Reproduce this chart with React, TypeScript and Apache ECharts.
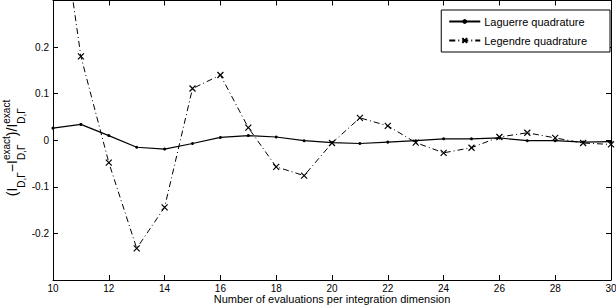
import React, { useEffect, useRef } from "react";
import * as echarts from "echarts";

const xValues = [10, 11, 12, 13, 14, 15, 16, 17, 18, 19, 20, 21, 22, 23, 24, 25, 26, 27, 28, 29, 30];
const laguerre = [0.026, 0.034, 0.010, -0.015, -0.019, -0.007, 0.006, 0.010, 0.007, -0.001, -0.005, -0.007, -0.004, -0.001, 0.003, 0.003, 0.005, -0.001, -0.001, -0.004, -0.003];
const legendre = [0.6, 0.18, -0.048, -0.232, -0.144, 0.111, 0.14, 0.027, -0.057, -0.076, -0.006, 0.048, 0.031, -0.005, -0.027, -0.016, 0.007, 0.016, 0.005, -0.006, -0.009];
const seriesNames = ["Laguerre quadrature", "Legendre quadrature"];
const xTitle = "Number of evaluations per integration dimension";

const FONT = '"Liberation Sans", Arial, Helvetica, sans-serif';

function measure(text: string, size: number): number {
  const c = document.createElement("canvas").getContext("2d");
  if (!c) return text.length * size * 0.55;
  c.font = `${size}px "Liberation Sans", Arial, sans-serif`;
  return c.measureText(text).width;
}

function buildYLabel() {
  const main = 14;
  const small = 10;
  const children: any[] = [];
  let pos = 0;
  const addMain = (t: string) => {
    children.push({ type: "text", x: pos, y: -5, style: { text: t, font: `${main}px ${FONT}`, fill: "#000", align: "left", verticalAlign: "middle" } });
    pos += measure(t, main);
  };
  const addStack = (sup: string | null, sub: string) => {
    let w = measure(sub, small);
    children.push({ type: "text", x: pos, y: 4, style: { text: sub, font: `${small}px ${FONT}`, fill: "#000", align: "left", verticalAlign: "middle" } });
    if (sup) {
      children.push({ type: "text", x: pos, y: -11, style: { text: sup, font: `${small}px ${FONT}`, fill: "#000", align: "left", verticalAlign: "middle" } });
      w = Math.max(w, measure(sup, small));
    }
    pos += w;
  };
  addMain("(I");
  addStack(null, "D,Γ");
  addMain("−I");
  addStack("exact", "D,Γ");
  addMain(")/I");
  addStack("exact", "D,Γ");
  const total = pos;
  return { type: "group", x: 17, y: 148 + total / 2, rotation: Math.PI / 2, children };
}

export default function App() {
  const ref = useRef<HTMLDivElement>(null);
  useEffect(() => {
    if (!ref.current) return;
    const chart = echarts.init(ref.current, undefined, { renderer: "svg" });
    const axisCommon = {
      type: "value" as const,
      axisLine: { show: true, onZero: false, lineStyle: { color: "#000", width: 1 } },
      axisTick: { show: true, inside: true, length: 5, lineStyle: { color: "#000" } },
      splitLine: { show: false },
    };
    const yFmt = (v: number) => {
      if (Math.abs(v) > 0.25) return "";
      const r = Math.round(v * 10) / 10;
      return r === 0 ? "0" : String(r);
    };
    chart.setOption({
      animation: false,
      backgroundColor: "#fff",
      textStyle: { fontFamily: FONT },
      grid: { left: 53, right: 5, top: 0.5, bottom: 26, containLabel: false, outerBoundsMode: "none" },
      legend: {
        orient: "vertical",
        right: 6,
        top: 10,
        data: seriesNames,
        borderColor: "#000",
        borderWidth: 1,
        borderRadius: 0,
        backgroundColor: "#fff",
        padding: [6, 23, 6, 7],
        itemGap: 8,
        itemWidth: 31,
        itemHeight: 6,
        textStyle: { fontSize: 11, color: "#000", fontFamily: FONT, padding: [0, 0, 0, -1] },
      },
      xAxis: [
        {
          ...axisCommon,
          position: "bottom",
          min: 10,
          max: 30,
          interval: 2,
          axisLabel: { color: "#000", fontSize: 10, lineHeight: 9, margin: 4, fontFamily: FONT },
          name: xTitle,
          nameLocation: "middle",
          nameGap: 13,
          nameMoveOverlap: false,
          nameTextStyle: { fontSize: 11, lineHeight: 11, color: "#000", fontFamily: FONT, verticalAlign: "top" },
        },
        {
          ...axisCommon,
          position: "top",
          min: 10,
          max: 30,
          interval: 2,
          axisLabel: { show: false },
        },
      ],
      yAxis: [
        {
          ...axisCommon,
          position: "left",
          min: -0.3,
          max: 0.3,
          interval: 0.1,
          axisLabel: { color: "#000", fontSize: 10, margin: 4, fontFamily: FONT, formatter: yFmt },
        },
        {
          ...axisCommon,
          position: "right",
          min: -0.3,
          max: 0.3,
          interval: 0.1,
          axisLabel: { show: false },
        },
      ],
      series: [
        {
          name: seriesNames[0],
          type: "line",
          xAxisIndex: 0,
          yAxisIndex: 0,
          data: xValues.map((x, i) => [x, laguerre[i]]),
          symbol: "circle",
          symbolSize: 3,
          showSymbol: true,
          itemStyle: { color: "#000" },
          lineStyle: { color: "#000", width: 1.2 },
          clip: true,
        },
        {
          name: seriesNames[1],
          type: "line",
          xAxisIndex: 0,
          yAxisIndex: 0,
          data: xValues.map((x, i) => [x, legendre[i]]),
          symbol: "path://M0,0L10,10M10,0L0,10",
          symbolSize: 6,
          showSymbol: true,
          itemStyle: { color: "none", borderColor: "#000", borderWidth: 1.2 },
          lineStyle: { color: "#000", width: 1, type: [6, 3, 1, 3] },
          clip: true,
        },
      ],
      graphic: [buildYLabel()],
    });
    return () => chart.dispose();
  }, []);
  return <div ref={ref} style={{ position: "fixed", left: 0, top: 0, width: 616, height: 306 }} />;
}
